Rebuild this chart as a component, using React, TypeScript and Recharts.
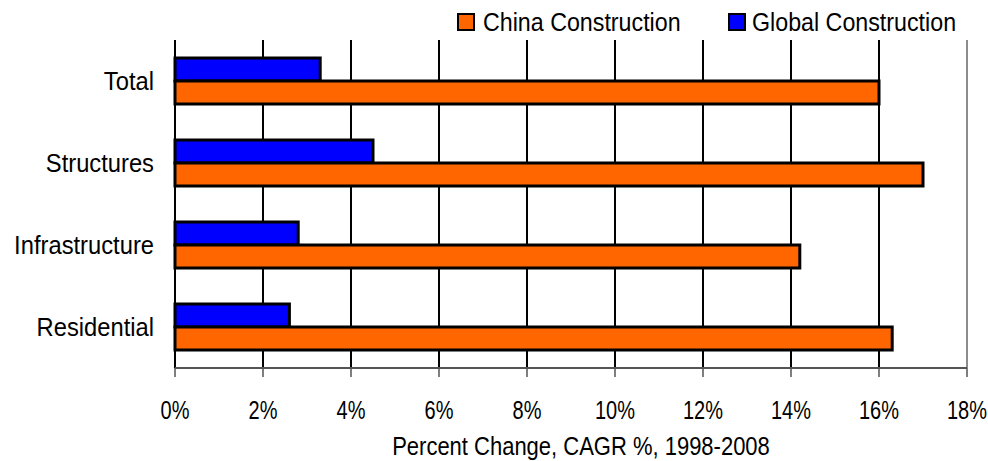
import React from 'react';
import {
  BarChart,
  Bar,
  XAxis,
  YAxis,
  CartesianGrid,
  Legend,
  ReferenceLine,
} from 'recharts';

// Construction growth, compound annual growth rate 1998-2008 (%)
const categories = ['Total', 'Structures', 'Infrastructure', 'Residential'];
const chinaValues = [16.0, 17.0, 14.2, 16.3];
const globalValues = [3.3, 4.5, 2.8, 2.6];
const xTicks = [0, 2, 4, 6, 8, 10, 12, 14, 16, 18];
const boundaryTicks = [0, 1, 2, 3, 4];

const CHINA_NAME = 'China Construction';
const GLOBAL_NAME = 'Global Construction';
const CHINA_COLOR = '#FF6600';
const GLOBAL_COLOR = '#0000FF';
const AXIS_TITLE = 'Percent Change, CAGR %, 1998-2008';

const data = categories.map((name, i) => ({
  name,
  china: chinaValues[i],
  global: globalValues[i],
}));

const FONT = "'Liberation Sans', Arial, sans-serif";

// Text drawn in a horizontally condensed face (regular sans squeezed on x)
type CondensedProps = {
  x: number;
  y: number;
  squeeze: number;
  size: number;
  anchor: 'start' | 'middle' | 'end';
  dy?: string;
  children: React.ReactNode;
};

const CondensedText = ({ x, y, squeeze, size, anchor, dy, children }: CondensedProps) => (
  <text
    transform={`translate(${x} ${y}) scale(${squeeze} 1)`}
    x={0}
    y={0}
    dy={dy}
    textAnchor={anchor}
    fontFamily={FONT}
    fontSize={size}
    fill="#000"
  >
    {children}
  </text>
);

const legendItems = [
  { label: CHINA_NAME, color: CHINA_COLOR, boxX: 458, textX: 483 },
  { label: GLOBAL_NAME, color: GLOBAL_COLOR, boxX: 729, textX: 752 },
];

const renderLegend = () => (
  <svg width={988} height={40} style={{ display: 'block' }}>
    {legendItems.map((item) => (
      <g key={item.label}>
        <rect x={item.boxX} y={14} width={16} height={16} fill={item.color} stroke="#000" strokeWidth={2} />
        <CondensedText x={item.textX} y={31} squeeze={0.93} size={25} anchor="start">
          {item.label}
        </CondensedText>
      </g>
    ))}
  </svg>
);

const XTick = (props: any) => {
  const { x, y, payload } = props;
  return (
    <CondensedText x={x} y={y} squeeze={0.8} size={25} anchor="middle" dy="0.71em">
      {`${payload.value}%`}
    </CondensedText>
  );
};

const YTick = (props: any) => {
  const { x, y, payload } = props;
  return (
    <CondensedText x={x} y={y} squeeze={0.95} size={25} anchor="end" dy="0.355em">
      {payload.value}
    </CondensedText>
  );
};

const AxisTitle = (props: any) => {
  const { viewBox } = props;
  const cx = viewBox.x + viewBox.width / 2 + 10;
  const baseline = viewBox.y + viewBox.height - 6;
  return (
    <CondensedText x={cx} y={baseline} squeeze={0.88} size={25} anchor="middle">
      {AXIS_TITLE}
    </CondensedText>
  );
};

export default function App() {
  return (
    <div style={{ position: 'absolute', left: 0, top: 0, width: 988, height: 461, background: '#fff' }}>
      <BarChart
        width={988}
        height={461}
        data={data}
        layout="vertical"
        margin={{ top: 0, right: 21, bottom: 0, left: 0 }}
        barGap={0}
        barSize={23}
      >
        <Legend
          verticalAlign="top"
          align="left"
          content={renderLegend}
          wrapperStyle={{ left: 0, top: 0, width: 988, height: 40, margin: 0, padding: 0 }}
        />
        <CartesianGrid horizontal={false} stroke="#000" strokeWidth={2} yAxisId="grid" />
        <XAxis
          type="number"
          domain={[0, 18]}
          ticks={xTicks}
          height={93}
          interval={0}
          axisLine={{ stroke: '#555', strokeWidth: 2 }}
          tickLine={{ stroke: '#555', strokeWidth: 1.5 }}
          tickSize={9}
          tickMargin={24}
          tick={<XTick />}
          label={<AxisTitle />}
        />
        <YAxis
          yAxisId="grid"
          type="number"
          domain={[0, 4]}
          ticks={boundaryTicks}
          width={0}
          tick={false}
          tickSize={7}
          axisLine={{ stroke: '#333', strokeWidth: 2 }}
          tickLine={{ stroke: '#555', strokeWidth: 1.5 }}
        />
        <YAxis
          yAxisId="cat"
          type="category"
          dataKey="name"
          width={175}
          axisLine={false}
          tickLine={false}
          tickSize={0}
          tickMargin={21}
          tick={<YTick />}
        />
        <ReferenceLine yAxisId="grid" y={4} stroke="#8c8c8c" strokeWidth={2} />
        <ReferenceLine yAxisId="cat" x={18} stroke="#8c8c8c" strokeWidth={2} />
        <Bar
          yAxisId="cat"
          dataKey="global"
          name={GLOBAL_NAME}
          fill={GLOBAL_COLOR}
          stroke="#000"
          strokeWidth={3}
          isAnimationActive={false}
        />
        <Bar
          yAxisId="cat"
          dataKey="china"
          name={CHINA_NAME}
          fill={CHINA_COLOR}
          stroke="#000"
          strokeWidth={3}
          isAnimationActive={false}
        />
      </BarChart>
    </div>
  );
}
